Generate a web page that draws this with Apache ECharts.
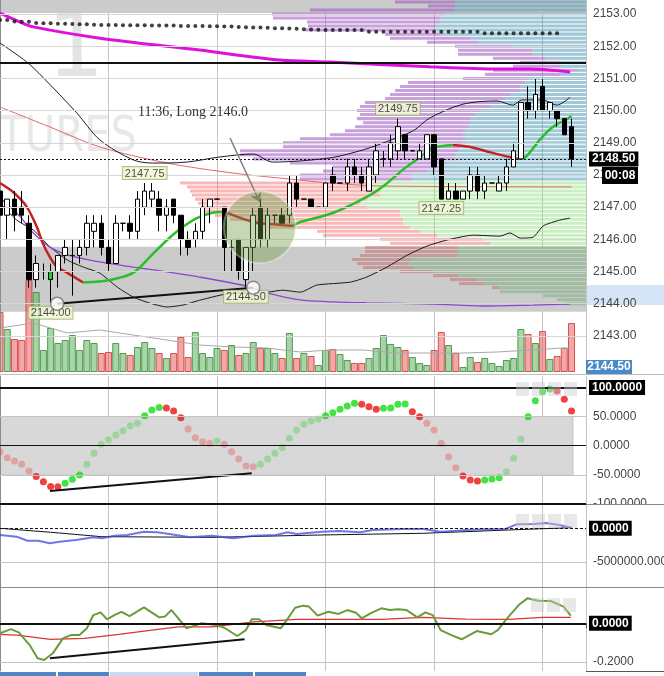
<!DOCTYPE html>
<html>
<head>
<meta charset="utf-8">
<title>ES 1 min</title>
<script src="https://cdn.jsdelivr.net/npm/echarts@6.0.0/dist/echarts.min.js"></script>
<style>
  html, body { margin: 0; padding: 0; background: #fff; }
  #main { width: 664px; height: 676px; }
</style>
</head>
<body>
<div id="main"></div>
<script>
// ---- candles, one per bar (left to right) ----
var barOpen = [2147.50,2146.75,2147.25,2147.00,2146.50,2144.75,2145.00,2144.75,2145.00,2145.50,
  2145.50,2145.50,2145.75,2146.25,2146.50,2145.75,2145.25,2146.50,2146.50,2146.25,
  2147.00,2147.25,2147.25,2146.75,2147.25,2146.75,2146.00,2146.00,2146.25,2147.00,
  2147.25,2147.00,2145.75,2146.00,2144.75,2145.75,2147.00,2146.00,2146.75,2146.75,
  2146.75,2147.75,2147.25,2147.25,2147.00,2147.00,2148.00,2147.75,2147.75,2148.25,
  2148.00,2147.50,2148.00,2148.50,2148.50,2148.75,2149.25,2148.75,2148.50,2148.50,
  2149.25,2148.50,2147.25,2147.50,2147.25,2147.50,2148.00,2147.50,2147.75,2147.50,
  2147.75,2148.25,2148.50,2150.25,2150.00,2150.75,2150.00,2150.00,2149.75,2149.50];
var barClose = [2146.75,2147.25,2146.75,2146.75,2144.75,2145.25,2145.00,2145.00,2145.50,2145.75,
  2145.50,2145.75,2146.50,2146.50,2145.75,2145.25,2146.50,2146.50,2146.25,2147.25,
  2147.50,2147.50,2146.75,2147.00,2146.75,2146.00,2145.75,2146.25,2147.00,2147.25,
  2147.25,2145.75,2145.75,2145.00,2145.75,2146.75,2146.00,2146.75,2146.75,2146.50,
  2147.75,2147.25,2147.25,2147.00,2147.00,2147.75,2147.75,2147.75,2148.25,2148.00,
  2147.75,2148.25,2148.75,2148.50,2149.00,2149.50,2148.75,2148.75,2148.75,2149.25,
  2148.25,2147.25,2147.50,2147.25,2147.50,2148.00,2147.50,2147.75,2147.75,2147.75,
  2148.25,2148.75,2150.25,2150.00,2150.50,2150.00,2150.25,2149.75,2149.25,2148.50];
var barLow = [2146.50,2146.00,2146.25,2146.50,2144.50,2144.50,2144.75,2144.00,2144.50,2145.25,
  2144.25,2145.25,2145.50,2145.75,2145.50,2145.00,2145.25,2146.25,2146.00,2146.00,
  2146.75,2147.00,2146.25,2146.25,2146.50,2145.50,2145.50,2145.75,2146.00,2146.50,
  2147.25,2145.00,2145.00,2144.75,2144.50,2145.00,2145.75,2145.75,2146.50,2146.50,
  2146.50,2147.00,2147.25,2147.00,2147.00,2147.00,2147.50,2147.75,2147.50,2147.75,
  2147.50,2147.50,2147.75,2148.25,2148.25,2148.50,2148.50,2148.75,2148.50,2148.50,
  2148.00,2147.25,2147.25,2147.25,2147.25,2147.25,2147.25,2147.25,2147.75,2147.50,
  2147.50,2148.25,2148.50,2149.75,2149.75,2150.00,2149.75,2149.50,2149.25,2148.25];
var barHigh = [2147.75,2147.25,2147.50,2147.50,2146.75,2145.50,2145.25,2145.25,2145.50,2146.00,
  2146.00,2146.00,2146.75,2146.75,2146.75,2146.00,2146.75,2146.50,2146.75,2147.50,
  2147.75,2147.75,2147.50,2147.25,2147.25,2146.75,2146.25,2146.50,2147.25,2147.25,
  2147.25,2147.00,2146.00,2146.00,2145.75,2147.00,2147.25,2147.00,2146.75,2147.00,
  2148.00,2148.00,2147.25,2147.25,2147.00,2147.75,2148.25,2147.75,2148.50,2148.50,
  2148.25,2148.50,2149.00,2148.75,2149.25,2149.75,2149.25,2148.75,2149.00,2149.25,
  2149.25,2148.50,2147.75,2147.75,2147.50,2148.25,2148.25,2148.00,2147.75,2148.00,
  2148.50,2149.00,2150.25,2150.75,2151.00,2151.00,2150.25,2150.00,2149.75,2149.75];
var barVolume = [1200,860,660,640,1840,1600,440,880,580,640,
  740,440,640,580,380,400,580,380,340,500,
  600,480,380,280,380,700,300,800,380,300,
  480,440,540,340,380,600,480,480,380,280,
  780,280,380,320,140,440,460,360,240,180,
  180,280,480,740,560,500,440,300,180,140,
  440,800,540,380,100,300,200,280,180,120,
  240,280,860,760,580,820,260,320,480,980];
var volumeAvg = [[0,880],[4.6,980],[9.3,780],[13.8,840],[18.4,740],[23.1,640],[27.6,540],[32.2,500],
  [36.9,480],[41.5,400],[45.6,440],[50.2,440],[54.9,380],[59.4,380],[64,380],[68.7,400],[73.3,440],[77.8,480],[78.8,480]];

// ---- price overlays, [bar, price] ----
var magentaAvg = [[0,2153.03],[2.8,2152.75],[4.6,2152.60],[13.8,2152.25],[27.6,2151.88],[38.7,2151.57],
  [45.6,2151.51],[59.4,2151.36],[68.7,2151.29],[73.3,2151.29],[78.8,2151.20]];
var dotLevel = [2152.81,2152.81,2152.77,2152.76,2152.76,2152.72,2152.71,2152.71,2152.70,2152.70,
  2152.69,2152.68,2152.68,2152.67,2152.66,2152.66,2152.66,2152.65,2152.65,2152.65,
  2152.65,2152.64,2152.64,2152.64,2152.64,2152.63,2152.63,2152.63,2152.63,2152.62,
  2152.62,2152.61,2152.61,2152.60,2152.59,2152.58,2152.58,2152.57,2152.56,2152.56,
  2152.55,2152.54,2152.53,2152.52,2152.51,2152.50,2152.50,2152.50,2152.50,2152.50,
  2152.50,2152.45,2152.45,2152.45,2152.45,2152.45,2152.45,2152.45,2152.45,2152.45,
  2152.45,2152.45,2152.45,2152.45,2152.45,2152.45,2152.45,2152.40,2152.40,2152.40,
  2152.40,2152.40,2152.40,2152.40,2152.40,2152.40,2152.40,2152.40];
var upperBand = [[0,2152.10],[3.7,2151.51],[5.9,2151.04],[10.6,2149.93],[13.8,2149.09],[18.4,2148.47],
  [21.1,2148.37],[25.8,2148.40],[30.4,2148.56],[35,2148.65],[37.7,2148.40],[45.6,2148.53],[50.2,2148.78],
  [52.9,2148.99],[57.1,2149.37],[59.4,2149.77],[64,2150.20],[68.7,2150.30],[70.9,2150.17],[72.1,2150.33],
  [75,2150.33],[77,2150.17],[78.8,2150.42]];
var lowerBand = [[0,2147.13],[2.3,2146.60],[4.6,2146.29],[6.9,2145.77],[9.3,2145.36],[11.5,2145.14],
  [13.8,2144.95],[16.2,2144.52],[18.4,2144.21],[20.7,2144.02],[23.1,2143.90],[25.3,2143.96],[27.6,2144.11],
  [32.2,2144.33],[35.9,2144.33],[39.1,2144.42],[41.5,2144.36],[43.8,2144.58],[48.4,2144.67],[50.7,2144.83],
  [53.5,2145.14],[56.3,2145.51],[59,2145.79],[61.8,2145.98],[65.4,2146.13],[69.1,2146.10],[70.5,2146.20],
  [71.9,2146.04],[73.7,2146.07],[75.1,2146.42],[77.4,2146.60],[78.8,2146.66]];
var slowRedAvg = [[0,2150.11],[6.9,2149.49],[13.8,2148.87],[23.1,2148.37],[32.2,2148.06],[41.5,2147.84],
  [45.6,2147.75],[52.5,2147.66],[79,2147.63]];
var purpleAvg = [[0,2147.29],[2.8,2146.70],[4.6,2146.20],[6.9,2145.76],[9.3,2145.52],[13.8,2145.30],
  [18.4,2145.14],[23.1,2144.99],[27.6,2144.83],[34.6,2144.52],[36.9,2144.34],[41.5,2144.12],[46,2144.06],
  [50.7,2144.03],[59.8,2143.99],[66.8,2143.93],[73.7,2143.96],[78.8,2143.99]];
// fast average, split where its slope turns
var fastDown1 = [[0,2147.75],[1.8,2147.47],[3.7,2147.01],[5.1,2146.38],[5.9,2145.89],[6.9,2145.45],[7.9,2145.14],[9.3,2144.96],[11.5,2144.66]];
var fastUp1 = [[11.5,2144.66],[15.2,2144.74],[18.4,2144.96],[20.7,2145.45],[23.1,2145.98],[25.3,2146.39],[27.6,2146.70],[30.4,2146.85],[31.4,2146.82]];
var fastDown2 = [[31.4,2146.82],[35,2146.54],[38.7,2146.45],[40.5,2146.42]];
var fastUp2 = [[40.5,2146.42],[41.5,2146.54],[46,2146.82],[50.7,2147.32],[53.2,2147.69],[56,2148.22],[58.1,2148.56],[59.8,2148.84],[62.6,2148.93]];
var fastDown3 = [[62.6,2148.93],[65,2148.87],[67.7,2148.71],[70.9,2148.53],[71.9,2148.50]];
var fastUp3 = [[71.9,2148.50],[72.8,2148.59],[74.6,2149.09],[76.4,2149.49],[78.4,2149.74],[79,2149.83]];

// swing labels
var pivotBar = [20, 55, 61, 7, 34];
var pivotPrice = [2147.75, 2149.75, 2147.25, 2144.00, 2144.50];
var pivotIsHigh = [true, true, false, false, false];
var divergencePrice = [[7.9,2144.00],[35,2144.50]];
var tradeMark = [[35.9,2146.38]];
var priceTicks = [2143,2144,2145,2146,2147,2148,2149,2150,2151,2152,2153];

// ---- volume profile (rows of 0.125) ----
var profileLevel = [2153.375,2153.25,2153.125,2153,2152.875,2152.75,2152.625,2152.5,2152.375,2152.25,
  2152.125,2152,2151.875,2151.75,2151.625,2151.5,2151.375,2151.25,2151.125,2151,
  2150.875,2150.75,2150.625,2150.5,2150.375,2150.25,2150.125,2150,2149.875,2149.75,
  2149.625,2149.5,2149.375,2149.25,2149.125,2149,2148.875,2148.75,2148.625,2148.5,
  2148.375,2148.25,2148.125,2148,2147.875,2147.75,2147.625,2147.5,2147.375,2147.25,
  2147.125,2147,2146.875,2146.75,2146.625,2146.5,2146.375,2146.25,2146.125,2146,
  2145.875,2145.75,2145.625,2145.5,2145.375,2145.25,2145.125,2145,2144.875,2144.75,
  2144.625,2144.5,2144.375,2144.25,2144.125,2144];
var profileRight = [1310,1310,1310,1410,1460,1460,1510,1510,1460,1160,
  1080,740,540,540,410,260,260,90,260,590,
  610,660,660,760,810,860,960,1060,1110,1160,
  1160,1180,1210,1230,1210,1240,1260,1280,1310,1310,
  1460,1460,1590,1760,1740,2190,2160,2060,2060,2190,
  2260,2190,1860,1860,1830,1830,1760,1660,1490,1040,
  960,1280,1280,1290,1760,1780,1730,1530,1280,1090,
  1010,880,860,430,290,210];
var profileLeft = [600,270,1450,1730,1670,1330,1270,1300,550,800,
  510,570,740,740,520,400,470,840,750,640,
  1170,1200,1250,1200,1200,1350,1300,1230,1150,1130,
  1070,1130,1200,1330,1650,1790,1770,2180,2150,2020,
  1500,1070,1040,1100,1120,1870,1830,1900,1880,1720,
  1620,1640,1970,1850,1730,1530,1400,1030,1140,1020,
  1000,930,930,970,580,510,500,330,250,270,
  260,60,0,0,0,0];

// ---- oscillator pane ----
var oscValue = [-10.3,-20.6,-26.2,-32,-43.4,-53,-61.7,-70,-70.5,-64.5,
  -57.6,-50.3,-32,-13,2.4,9.8,18.4,25.7,34.3,38.4,
  51.5,61.2,65.5,64.5,59.5,48,28.6,13.7,6.9,4.1,
  8,2.4,-10.3,-22.8,-34.8,-36,-32,-22.8,-13,-3.4,
  12.7,26.9,36.7,42.4,45.8,51.5,56.6,62.4,68,72.7,
  71,66.9,62.4,64.1,64.5,71,71.5,58.3,49.7,38.4,
  26.9,4.1,-18.9,-37.7,-52,-58.8,-60.5,-58.8,-57.1,-54.9,
  -44.6,-21.6,11,49.7,77.2,92.6,97.2,93.8,79.6,59.5];
var oscDivergence = [[6.9,-77.7],[34.8,-47.3]];

// ---- flow pane ----
var flowBlue = [[0,-990000],[2.3,-1240000],[3.8,-1840000],[5.3,-1840000],[6.9,-2230000],[8.2,-1980000],
  [10.5,-1740000],[12.9,-1340000],[14.1,-1480000],[15.8,-1090000],[17.6,-990000],[19.9,-500000],[21.7,-600000],
  [23.4,-850000],[26.3,-1340000],[29.3,-1090000],[32.2,-1480000],[35.1,-1090000],[38.1,-990000],[39.8,-600000],
  [41,-850000],[44.5,-500000],[46.8,-400000],[49.8,-600000],[51.5,-250000],[55.6,-100000],[58.5,-100000],
  [60.9,-500000],[63.2,-350000],[64.4,-250000],[67.3,-150000],[69.7,-150000],[71.4,590000],[73.8,640000],
  [75.5,790000],[77.3,490000],[79,100000]];
var flowBlack = [[0,0],[7,-590000],[14,-1240000],[29.3,-1340000],[44.5,-990000],[58.5,-740000],[70.3,-250000],[79,100000]];

// ---- momentum pane ----
var momGreen = [[0,-0.052],[1.5,-0.030],[2.6,-0.047],[4.1,-0.113],[5.2,-0.182],[6.1,-0.191],[7.3,-0.156],
  [8.7,-0.078],[9.8,-0.061],[11,-0.061],[12,-0.026],[12.9,0.043],[13.9,0.057],[14.8,0.021],[15.8,0.043],
  [16.8,0.060],[17.9,0.038],[19.9,0.083],[22,0.031],[22.8,0.035],[23.7,0.069],[25.8,-0.026],[27.8,0],
  [29.9,-0.009],[31,-0.023],[32.8,-0.066],[34,-0.035],[34.8,0.021],[35.8,0.021],[36.8,-0.009],[38.8,-0.026],
  [39.8,0.026],[40.8,0.081],[41.9,0.092],[42.7,0.087],[43.9,0.040],[45.4,0.060],[46.8,0.049],[48,0.069],
  [49.2,0.055],[50,0.026],[51.2,0.052],[52.7,0.078],[53.9,0.069],[55,0.073],[56.2,0.069],[57.7,0.031],
  [58.8,0.057],[59.8,0.043],[60.9,-0.035],[62.4,-0.061],[63.8,-0.083],[65.9,-0.040],[67.9,-0.057],
  [68.8,-0.035],[70.3,0.035],[71.7,0.095],[72.9,0.130],[74.4,0.118],[76.1,0.116],[77.9,0.087],[78.9,0.040]];
var momRed = [[0,-0.057],[2.3,-0.061],[7,-0.083],[11.7,-0.078],[16.4,-0.057],[21,-0.035],[24.6,-0.018],
  [29.3,-0.018],[35.1,0.008],[41,0.021],[46.8,0.021],[52.7,0.021],[58.5,0.031],[64.4,0.022],[70.3,0.021],
  [75,0.031],[78.9,0.031]];
var momDivergence = [[6.9,-0.182],[33.8,-0.083]];

var FONT = 'Liberation Sans';
var chart = echarts.init(document.getElementById('main'));

var profileInner = ['rgba(82,155,184,0.55)', 'rgba(145,225,129,0.5)', 'rgba(100,170,100,0.42)'];
var profileOuter = ['rgba(155,82,191,0.55)', 'rgba(241,113,113,0.5)', 'rgba(200,90,90,0.45)'];

function barAxis(gridIndex, split) {
  return {
    type: 'value', gridIndex: gridIndex, min: 0, max: 81, interval: 15,
    axisLine: {show: false}, axisTick: {show: false}, axisLabel: {show: false},
    splitLine: {show: split, lineStyle: {color: '#c4c4c4', width: 1}}
  };
}
function sideAxis(gridIndex, min, max, values, digits) {
  return {
    type: 'value', gridIndex: gridIndex, position: 'right', min: min, max: max, z: 3,
    axisLine: {show: true, lineStyle: {color: '#8c8c8c'}},
    axisTick: {show: true, length: 4, customValues: values, lineStyle: {color: '#8c8c8c'}},
    axisLabel: {show: true, customValues: values, margin: 7, color: '#444', fontSize: 12, fontFamily: FONT,
      formatter: function (v) { return v.toFixed(digits); }},
    splitLine: {show: false}
  };
}
function hLine(v, color, width, type, text) {
  var item = {yAxis: v, lineStyle: {color: color, width: width, type: type}};
  item.label = text ? {show: true, position: 'end', distance: 3, formatter: text, color: '#fff',
    backgroundColor: '#000', padding: [2, 3, 1, 3], fontSize: 12, fontWeight: 'bold', fontFamily: FONT} : {show: false};
  return item;
}
function guide(xi, yi, z, lines) {
  return {type: 'line', xAxisIndex: xi, yAxisIndex: yi, data: [], z: z, silent: true,
    markLine: {silent: true, symbol: 'none', animation: false, data: lines}};
}
function curve(data, xi, yi, color, width, z, smooth) {
  return {type: 'line', xAxisIndex: xi, yAxisIndex: yi, data: data, z: z, silent: true,
    showSymbol: false, symbol: 'none', smooth: smooth || false,
    lineStyle: {color: color, width: width}};
}

var candleData = barOpen.map(function (o, i) {
  var item = {value: [i, o, barClose[i], barLow[i], barHigh[i]]};
  if (i === 7) item.itemStyle = {color: '#1fd21f', borderColor: '#000'};
  return item;
});
var volumeData = barVolume.map(function (v, i) {
  var up = barClose[i] >= barOpen[i];
  return {value: [i, v], itemStyle: up
    ? {color: 'rgba(96,178,96,0.55)', borderColor: 'rgba(60,140,60,0.85)', borderWidth: 1}
    : {color: 'rgba(235,95,95,0.55)', borderColor: 'rgba(205,60,60,0.85)', borderWidth: 1}};
});
var pivotData = pivotBar.map(function (b, i) {
  return {value: [b, pivotPrice[i]], label: {position: pivotIsHigh[i] ? 'top' : 'bottom',
    distance: pivotIsHigh[i] ? 4 : 3, formatter: pivotPrice[i].toFixed(2)}};
});

var series = [];
// main pane background bands and price grid
series.push({
  type: 'line', xAxisIndex: 0, yAxisIndex: 0, data: [], z: 1, silent: true,
  markArea: {silent: true, itemStyle: {color: '#cbcbcb'},
    data: [[{yAxis: 2153.03}, {yAxis: 2153.435}], [{yAxis: 2143.75}, {yAxis: 2145.77}]]}
});
series.push(guide(0, 0, 1, priceTicks.map(function (v) { return hLine(v, '#d6d6d6', 1, 'solid'); })));
// volume profile
series.push({
  type: 'custom', xAxisIndex: 1, yAxisIndex: 0, z: 1, clip: true, silent: true,
  encode: {x: 0, y: 1},
  data: profileLevel.map(function (p, i) { return [profileRight[i], p, profileLeft[i]]; }),
  renderItem: function (params, api) {
    var right = api.value(0), level = api.value(1), left = api.value(2);
    var yTop = api.coord([0, level + 0.0625])[1];
    var yBot = api.coord([0, level - 0.0625])[1];
    var xEdge = api.coord([0, level])[0];
    var xSplit = api.coord([right, level])[0];
    var xLeft = api.coord([right + left, level])[0];
    var zone = level >= 2147.875 ? 0 : (level >= 2145.875 ? 1 : 2);
    var h = Math.max(1, yBot - yTop - 1);
    return {type: 'group', children: [
      {type: 'rect', shape: {x: xSplit, y: yTop + 0.5, width: xEdge - xSplit, height: h}, style: {fill: profileInner[zone]}},
      {type: 'rect', shape: {x: xLeft, y: yTop + 0.5, width: xSplit - xLeft, height: h}, style: {fill: profileOuter[zone]}}
    ]};
  }
});
// volume
series.push({type: 'bar', xAxisIndex: 2, yAxisIndex: 1, data: volumeData, barWidth: 7, z: 2, silent: true});
series.push(curve(volumeAvg, 2, 1, '#a8a8a8', 1, 2));
// overlays
series.push(curve(slowRedAvg, 0, 0, '#e06a6a', 1, 3, 0.3));
series.push(curve(upperBand, 0, 0, '#1a1a2a', 1, 3, 0.3));
series.push(curve(lowerBand, 0, 0, '#1a1a1a', 1, 3, 0.2));
series.push(curve(purpleAvg, 0, 0, '#8f45cf', 1.3, 3, 0.3));
series.push(curve(magentaAvg, 0, 0, '#e010dc', 3, 3, 0.3));
series.push({type: 'scatter', xAxisIndex: 0, yAxisIndex: 0, z: 3, silent: true, symbolSize: 4,
  itemStyle: {color: '#111'}, data: dotLevel.map(function (v, i) { return [i, v]; })});
[fastDown1, fastDown2, fastDown3].forEach(function (d) { series.push(curve(d, 0, 0, '#c42222', 2.5, 3, 0.3)); });
[fastUp1, fastUp2, fastUp3].forEach(function (d) { series.push(curve(d, 0, 0, '#27c027', 2.5, 3, 0.3)); });
// candles
series.push({
  type: 'candlestick', xAxisIndex: 0, yAxisIndex: 0, z: 4, silent: true, barWidth: 5,
  encode: {x: 0, y: [1, 2, 3, 4]},
  itemStyle: {color: '#ffffff', color0: '#000000', borderColor: '#000000', borderColor0: '#000000', borderWidth: 1},
  data: candleData
});
// trade marker
series.push({type: 'scatter', xAxisIndex: 0, yAxisIndex: 0, z: 5, silent: true, symbolSize: 72,
  itemStyle: {color: 'rgba(110,155,70,0.5)', borderColor: 'rgba(255,255,255,0.45)', borderWidth: 2}, data: tradeMark});
series.push({
  type: 'line', xAxisIndex: 0, yAxisIndex: 0, data: [], z: 6, silent: true,
  markLine: {silent: true, animation: false, symbol: 'none', data: [
    hLine(2151.5, '#111', 2, 'solid'),
    hLine(2148.5, '#111', 1, [2, 2], '2148.50'),
    [{coord: [31.8, 2149.15], symbol: 'none'}, {coord: [35.9, 2147.16], symbol: 'arrow', symbolSize: 9,
      lineStyle: {color: '#808080', width: 1.5, type: 'solid'}, label: {show: false}}]
  ]}
});
series.push(curve(divergencePrice, 0, 0, '#111', 2, 6));
series.push({type: 'scatter', xAxisIndex: 0, yAxisIndex: 0, z: 7, silent: true, symbolSize: 0,
  label: {show: true, color: '#222', fontSize: 11, fontFamily: FONT, backgroundColor: '#f1f8d6',
    borderColor: '#9db56a', borderWidth: 1, padding: [1, 2, 0, 2]},
  data: pivotData});
series.push({type: 'scatter', xAxisIndex: 0, yAxisIndex: 0, z: 8, silent: true, symbolSize: 13,
  itemStyle: {color: '#fff', borderColor: '#777', borderWidth: 1.5}, data: divergencePrice});

// oscillator pane
series.push({type: 'line', xAxisIndex: 3, yAxisIndex: 2, data: [], z: 1, silent: true,
  markArea: {silent: true, itemStyle: {color: '#d8d8d8', borderColor: '#c6c6c6', borderWidth: 1},
    data: [[{xAxis: 0, yAxis: -50}, {xAxis: 79.2, yAxis: 50}]]}});
series.push(guide(3, 2, 2, [hLine(50, '#c4c4c4', 1, 'solid'), hLine(-50, '#c4c4c4', 1, 'solid'),
  hLine(0, '#111', 1, 'solid'), hLine(100, '#111', 2, 'solid', '100.0000'), hLine(-100, '#111', 2, 'solid')]));
series.push({type: 'scatter', xAxisIndex: 3, yAxisIndex: 2, z: 3, silent: true, symbolSize: 7,
  data: oscValue.map(function (v, i) { return [i, v]; }),
  itemStyle: {color: function (p) {
    var i = p.dataIndex, v = oscValue[i];
    var rising = i > 0 && v > oscValue[i - 1];
    var strong = Math.abs(v) >= 47;
    if (rising) return strong ? '#14dc14' : 'rgba(40,205,40,0.42)';
    return strong ? '#ee1111' : 'rgba(230,60,60,0.42)';
  }}});
series.push(curve(oscDivergence, 3, 2, '#111', 2, 4));

// flow pane
series.push(guide(4, 3, 1, [hLine(-5000000, '#c4c4c4', 1, 'solid'), hLine(0, '#111', 1, [3, 2], '0.0000')]));
series.push(curve(flowBlack, 4, 3, '#111', 1, 2));
series.push(curve(flowBlue, 4, 3, 'rgba(70,70,220,0.75)', 2, 3));

// momentum pane
series.push(guide(5, 4, 1, [hLine(-0.2, '#c4c4c4', 1, 'solid'), hLine(0, '#111', 2, 'solid', '0.0000')]));
series.push(curve(momRed, 5, 4, '#dd3333', 1.2, 2));
series.push(curve(momGreen, 5, 4, '#6b9a3a', 2, 3));
series.push(curve(momDivergence, 5, 4, '#111', 2, 4));

var timeSegments = [[0, 56, '#4f86c6'], [58, 51, '#4f86c6'], [110, 88, '#c9daf0'], [199, 54, '#4f86c6'], [255, 51, '#4f86c6']];
var graphics = [
  {type: 'text', x: 47, y: 8, z: 0, silent: true, style: {text: '1', font: '90px "DejaVu Sans"', fill: '#e4e4e4', align: 'left', verticalAlign: 'top'}},
  {type: 'text', x: 137, y: 114, scaleX: 0.85, z: 0, silent: true, style: {text: 'FUTURES', font: '49px "DejaVu Sans"', fill: '#e8e8e8', align: 'right', verticalAlign: 'top'}},
  {type: 'text', x: 138, y: 105, z: 100, silent: true, style: {text: '11:36, Long 2146.0', font: '14px "Liberation Serif"', fill: '#333'}},
  {type: 'rect', shape: {x: 587, y: 285, width: 77, height: 20}, z: 1, silent: true, style: {fill: '#d5e5f7'}},
  {type: 'rect', shape: {x: 602, y: 167, width: 36, height: 17}, z: 100, silent: true, style: {fill: '#000'}},
  {type: 'text', x: 620, y: 175.5, z: 101, silent: true, style: {text: '00:08', font: 'bold 12px "Liberation Sans"', fill: '#fff', align: 'center', verticalAlign: 'middle'}},
  {type: 'rect', shape: {x: 586, y: 360, width: 46, height: 14}, z: 100, silent: true, style: {fill: '#4a8ac9'}},
  {type: 'text', x: 609, y: 367, z: 101, silent: true, style: {text: '2144.50', font: 'bold 12px "Liberation Sans"', fill: '#fff', align: 'center', verticalAlign: 'middle'}},
  {type: 'rect', shape: {x: 587, y: 505, width: 77, height: 8}, z: 10, silent: true, style: {fill: '#fff'}},
  {type: 'line', shape: {x1: 0, y1: 374.5, x2: 664, y2: 374.5}, z: 50, silent: true, style: {stroke: '#bcbcbc', lineWidth: 1}},
  {type: 'line', shape: {x1: 586, y1: 504.5, x2: 664, y2: 504.5}, z: 50, silent: true, style: {stroke: '#8a8a8a', lineWidth: 1}},
  {type: 'line', shape: {x1: 0, y1: 587.5, x2: 664, y2: 587.5}, z: 50, silent: true, style: {stroke: '#8a8a8a', lineWidth: 1}},
  {type: 'line', shape: {x1: 586, y1: 671.5, x2: 664, y2: 671.5}, z: 50, silent: true, style: {stroke: '#555', lineWidth: 1}}
];
timeSegments.forEach(function (s) {
  graphics.push({type: 'rect', shape: {x: s[0], y: 672, width: s[1], height: 4}, z: 50, silent: true, style: {fill: s[2]}});
});
[[516, 382, 4], [516, 514, 4], [531, 598, 3]].forEach(function (g) {
  for (var k = 0; k < g[2]; k++) {
    graphics.push({type: 'rect', shape: {x: g[0] + k * 16, y: g[1], width: 13, height: 14}, z: 60, silent: true,
      style: {fill: 'rgba(205,205,205,0.45)'}});
  }
});

var momX = barAxis(4, true);
momX.axisLine = {show: true, lineStyle: {color: '#555'}};
momX.axisTick = {show: true, length: 5, lineStyle: {color: '#555'}};

chart.setOption({
  animation: false,
  backgroundColor: '#fff',
  grid: [
    {left: 0, top: 0, width: 586, height: 372, outerBoundsMode: 'none'},
    {left: 0, top: 240, width: 586, height: 132, outerBoundsMode: 'none'},
    {left: 0, top: 376, width: 586, height: 128, outerBoundsMode: 'none'},
    {left: 0, top: 505, width: 586, height: 82, outerBoundsMode: 'none'},
    {left: 0, top: 587, width: 586, height: 84, outerBoundsMode: 'none'}
  ],
  xAxis: [
    barAxis(0, true),
    {type: 'value', gridIndex: 0, inverse: true, min: 0, max: 5860, show: false},
    barAxis(1, false),
    barAxis(2, true),
    barAxis(3, true),
    momX
  ],
  yAxis: [
    sideAxis(0, 2141.88, 2153.435, priceTicks, 2),
    {type: 'value', gridIndex: 1, min: 0, max: 2640, show: false},
    sideAxis(2, -100, 119.6, [50, 0, -50, -100], 4),
    sideAxis(3, -8709000, 3457000, [-5000000], 4),
    sideAxis(4, -0.248, 0.189, [-0.2], 4)
  ],
  graphic: {elements: graphics},
  series: series
});
</script>
</body>
</html>
